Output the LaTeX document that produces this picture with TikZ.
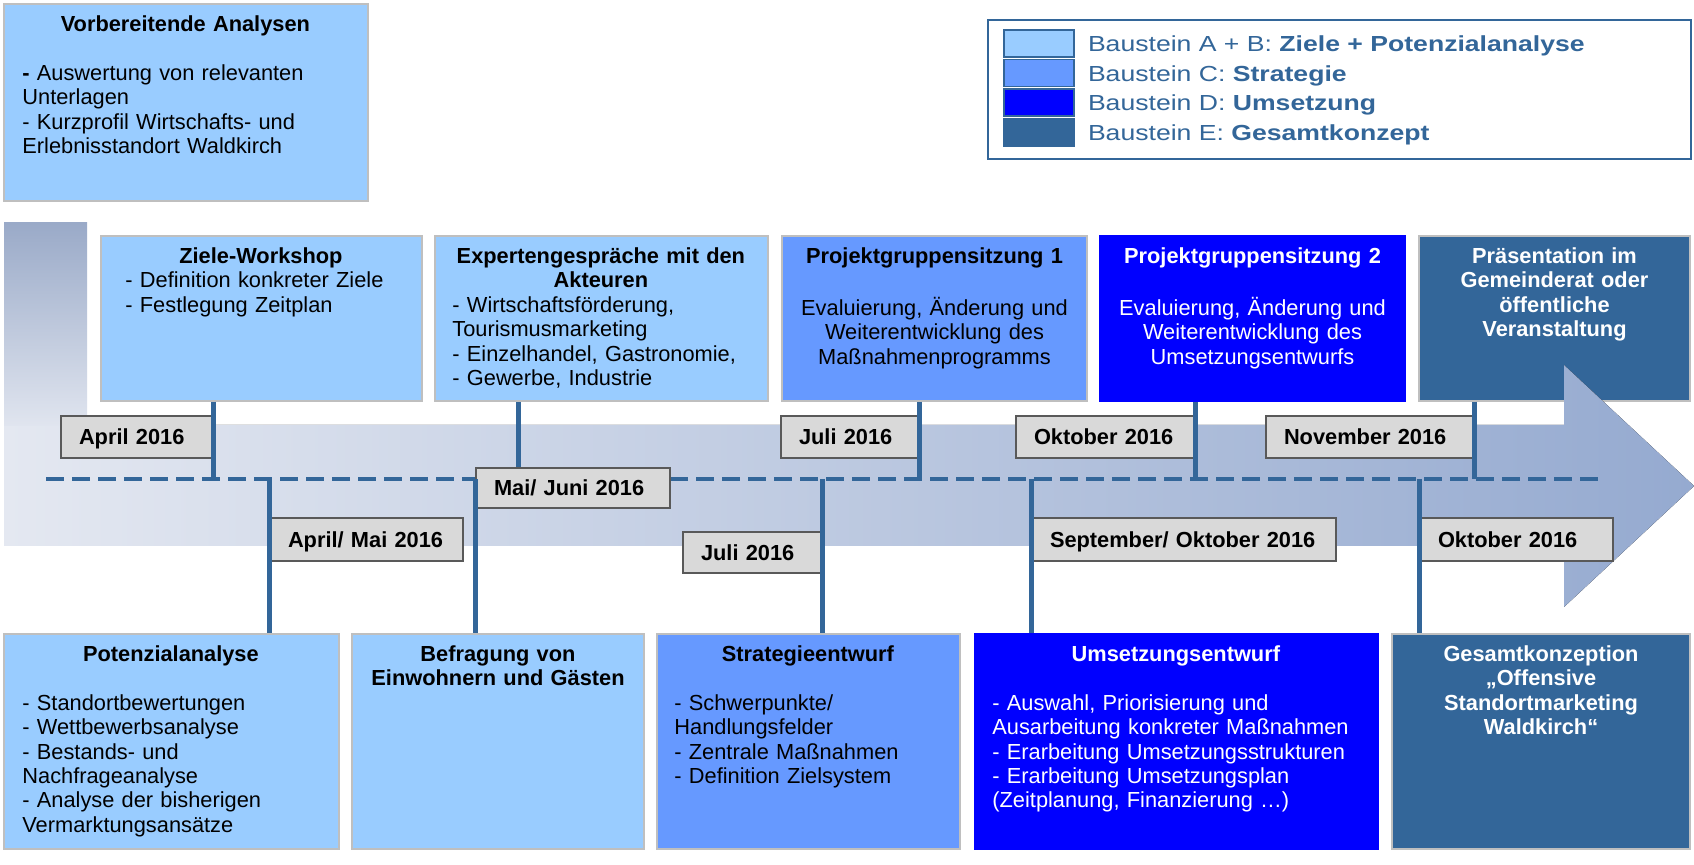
\documentclass[tikz,border=0pt]{standalone}
\usepackage{fontspec}
\setmainfont{Liberation Sans}
\newfontfamily\breit[FakeStretch=1.22]{Liberation Sans}
\usepackage{tikz}
\setlength{\parindent}{0pt}
\newcommand{\fs}{\fontsize{10.9}{12.2}\selectfont}
\definecolor{hell}{HTML}{99CCFF}
\definecolor{mittel}{HTML}{6699FF}
\definecolor{blau}{HTML}{0000FF}
\definecolor{dunkel}{HTML}{336699}
\definecolor{rand}{HTML}{BFBFBF}
\definecolor{datumgrau}{HTML}{D9D9D9}
\definecolor{datumrand}{HTML}{595959}
\definecolor{bandhell}{HTML}{E4E8F1}
\definecolor{banddunkel}{HTML}{95AAD0}
\definecolor{saeule}{HTML}{9AAAC8}
\tikzstyle{kasten}=[draw=rand,line width=1pt,anchor=north west,inner sep=0pt]
\tikzstyle{inhalt}=[anchor=north west,inner sep=0pt,align=left,font=\fs]
\tikzstyle{mitte}=[anchor=north,inner sep=0pt,align=center,font=\fs]
\tikzstyle{datum}=[draw=datumrand,fill=datumgrau,line width=1pt,anchor=north west,inner xsep=9pt,inner ysep=0pt,align=left,font=\fs\bfseries,text height=7.8pt,text depth=0pt]
\tikzstyle{verbinder}=[draw=dunkel,line width=2.5pt]
\tikzstyle{achse}=[draw=dunkel,line width=2pt,dash pattern=on 9pt off 4pt]
\tikzstyle{feld}=[draw=dunkel,line width=0.8pt,anchor=north west,minimum width=35pt,minimum height=13.5pt,inner sep=0pt]
\tikzstyle{eintrag}=[anchor=base west,inner sep=0pt,text=dunkel,font=\breit\fs]

\begin{document}
\begin{tikzpicture}[x=0.5pt,y=-0.5pt]
  \fill[white] (0,0) rectangle (1694,865);
  \useasboundingbox (0,0) rectangle (1694,865);

  \node[kasten,fill=hell,minimum width=182pt,minimum height=98.5pt] (vorb) at (3,3) {};
  \node[inhalt,text width=163pt] (vorb-t) at ([xshift=9.5pt,yshift=-5.5pt]vorb.north west)
    {{\centering\strut\textbf{Vorbereitende Analysen}\par}\vspace{12.2pt}\textbf{-} Auswertung von relevanten\\Unterlagen\\- Kurzprofil Wirtschafts- und\\Erlebnisstandort Waldkirch};

  \node[kasten,draw=dunkel,minimum width=351.5pt,minimum height=69.5pt] (legende) at (987,19) {};
  \node[feld,fill=hell] (feldAB) at (1003,29) {};
  \node[feld,fill=mittel] (feldC) at (1003,58.7) {};
  \node[feld,fill=blau] (feldD) at (1003,88.4) {};
  \node[feld,fill=dunkel] (feldE) at (1003,118.1) {};
  \node[eintrag] (eintragAB) at ([xshift=6.5pt,yshift=-11.3pt]feldAB.north east) {Baustein A + B: \textbf{Ziele + Potenzialanalyse}};
  \node[eintrag] (eintragC) at ([xshift=6.5pt,yshift=-11.3pt]feldC.north east) {Baustein C: \textbf{Strategie}};
  \node[eintrag] (eintragD) at ([xshift=6.5pt,yshift=-11.3pt]feldD.north east) {Baustein D: \textbf{Umsetzung}};
  \node[eintrag] (eintragE) at ([xshift=6.5pt,yshift=-11.3pt]feldE.north east) {Baustein E: \textbf{Gesamtkonzept}};

  \node[kasten,fill=hell,minimum width=160.5pt,minimum height=82.5pt] (ziele) at (100,235) {};
  \node[inhalt,text width=135.5pt] (ziele-t) at ([xshift=12.5pt,yshift=-5.5pt]ziele.north west)
    {{\centering\strut\textbf{Ziele-Workshop}\par}- Definition konkreter Ziele\\- Festlegung Zeitplan};
  \node[kasten,fill=hell,minimum width=166.5pt,minimum height=82.5pt] (experten) at (434,235) {};
  \node[inhalt,text width=148.5pt] (experten-t) at ([xshift=9pt,yshift=-5.5pt]experten.north west)
    {{\centering\strut\textbf{Expertengespräche mit den}\par\textbf{Akteuren}\par}- Wirtschaftsförderung,\\Tourismusmarketing\\- Einzelhandel, Gastronomie,\\- Gewerbe, Industrie};
  \node[kasten,fill=mittel,minimum width=152.5pt,minimum height=82.5pt] (pg1) at (781,235) {};
  \node[mitte,text width=134.5pt] (pg1-t) at ([yshift=-5.5pt]pg1.north)
    {\strut\textbf{Projektgruppensitzung 1}\\[12.2pt]Evaluierung, Änderung und\\Weiterentwicklung des\\Maßnahmenprogramms};
  \node[kasten,draw=blau,fill=blau,minimum width=152.5pt,minimum height=82.5pt] (pg2) at (1099,235) {};
  \node[mitte,text=white,text width=134.5pt] (pg2-t) at ([yshift=-5.5pt]pg2.north)
    {\strut\textbf{Projektgruppensitzung 2}\\[12.2pt]Evaluierung, Änderung und\\Weiterentwicklung des\\Umsetzungsentwurfs};
  \node[kasten,fill=dunkel,minimum width=135.5pt,minimum height=82.5pt] (praes) at (1418,235) {};
  \node[mitte,text=white,text width=117.5pt,font=\fs\bfseries] (praes-t) at ([yshift=-5.5pt]praes.north)
    {\strut Präsentation im\\Gemeinderat oder\\öffentliche\\Veranstaltung};

  \node[kasten,fill=hell,minimum width=167.5pt,minimum height=107.5pt] (potenzial) at (3,633) {};
  \node[inhalt,text width=148.5pt] (potenzial-t) at ([xshift=9.5pt,yshift=-5.5pt]potenzial.north west)
    {{\centering\strut\textbf{Potenzialanalyse}\par}\vspace{12.2pt}- Standortbewertungen\\- Wettbewerbsanalyse\\- Bestands- und\\Nachfrageanalyse\\- Analyse der bisherigen\\Vermarktungsansätze};
  \node[kasten,fill=hell,minimum width=146pt,minimum height=107.5pt] (befragung) at (351,633) {};
  \node[mitte,text width=128pt,font=\fs\bfseries] (befragung-t) at ([yshift=-5.5pt]befragung.north)
    {\strut Befragung von\\Einwohnern und Gästen};
  \node[kasten,fill=mittel,minimum width=151.5pt,minimum height=107.5pt] (strategie) at (656,633) {};
  \node[inhalt,text width=133.5pt] (strategie-t) at ([xshift=9pt,yshift=-5.5pt]strategie.north west)
    {{\centering\strut\textbf{Strategieentwurf}\par}\vspace{12.2pt}- Schwerpunkte/\\Handlungsfelder\\- Zentrale Maßnahmen\\- Definition Zielsystem};
  \node[kasten,draw=blau,fill=blau,minimum width=201.5pt,minimum height=107.5pt] (umsetzung) at (974,633) {};
  \node[inhalt,text=white,text width=183.5pt] (umsetzung-t) at ([xshift=9pt,yshift=-5.5pt]umsetzung.north west)
    {{\centering\strut\textbf{Umsetzungsentwurf}\par}\vspace{12.2pt}- Auswahl, Priorisierung und\\Ausarbeitung konkreter Maßnahmen\\- Erarbeitung Umsetzungsstrukturen\\- Erarbeitung Umsetzungsplan\\(Zeitplanung, Finanzierung …)};
  \node[kasten,fill=dunkel,minimum width=149pt,minimum height=107.5pt] (gesamt) at (1391,633) {};
  \node[mitte,text=white,text width=131pt,font=\fs\bfseries] (gesamt-t) at ([yshift=-5.5pt]gesamt.north)
    {\strut Gesamtkonzeption\\„Offensive\\Standortmarketing\\Waldkirch“};

  \fill[left color=bandhell,right color=banddunkel] (4,425) -- (1564,425) -- (1564,365) -- (1694,486)
    -- (1564,607) -- (1564,546) -- (4,546) -- cycle;
  \fill[top color=saeule,bottom color=bandhell!95!saeule] (4,223) rectangle (87,426);

  \coordinate (achseA) at (46,479);
  \coordinate (achseE) at (1599,479);
  \draw[achse] (achseA) -- (achseE);

  \node[datum,text width=57.5pt,minimum height=21pt] (tApril) at (60,415) {April 2016};
  \node[datum,text width=50.5pt,minimum height=21pt] (tJuli) at (780,415) {Juli 2016};
  \node[datum,text width=71pt,minimum height=21pt] (tOktober) at (1015,415) {Oktober 2016};
  \node[datum,text width=85.5pt,minimum height=21pt] (tNovember) at (1265,415) {November 2016};
  \node[datum,text width=78.5pt,minimum height=21.5pt] (bAprilMai) at (269,517) {April/ Mai 2016};
  \node[datum,text width=79pt,minimum height=20pt] (bMaiJuni) at (475,467) {Mai/ Juni 2016};
  \node[datum,text width=51pt,minimum height=20.5pt] (bJuli) at (682,531) {Juli 2016};
  \node[datum,text width=134pt,minimum height=21.5pt] (bSeptOkt) at (1031,517) {September/ Oktober 2016};
  \node[datum,text width=78.5pt,minimum height=21.5pt] (bOktober) at (1419,517) {Oktober 2016};

  \coordinate (expertenFuss) at ([xshift=42pt]experten.south west);
  \draw[verbinder] (ziele.south -| tApril.east) -- (tApril.east |- achseA);
  \draw[verbinder] (expertenFuss) -- (expertenFuss |- bMaiJuni.north);
  \draw[verbinder] (pg1.south -| tJuli.east) -- (tJuli.east |- achseA);
  \draw[verbinder] (pg2.south -| tOktober.east) -- (tOktober.east |- achseA);
  \draw[verbinder] (praes.south -| tNovember.east) -- (tNovember.east |- achseA);
  \draw[verbinder] (bAprilMai.west |- achseA) -- (bAprilMai.west |- potenzial.north);
  \draw[verbinder] (bMaiJuni.west |- achseA) -- (bMaiJuni.west |- befragung.north);
  \draw[verbinder] (bJuli.east |- achseA) -- (bJuli.east |- strategie.north);
  \draw[verbinder] (bSeptOkt.west |- achseA) -- (bSeptOkt.west |- umsetzung.north);
  \draw[verbinder] (bOktober.west |- achseA) -- (bOktober.west |- gesamt.north);
\end{tikzpicture}
\end{document}
